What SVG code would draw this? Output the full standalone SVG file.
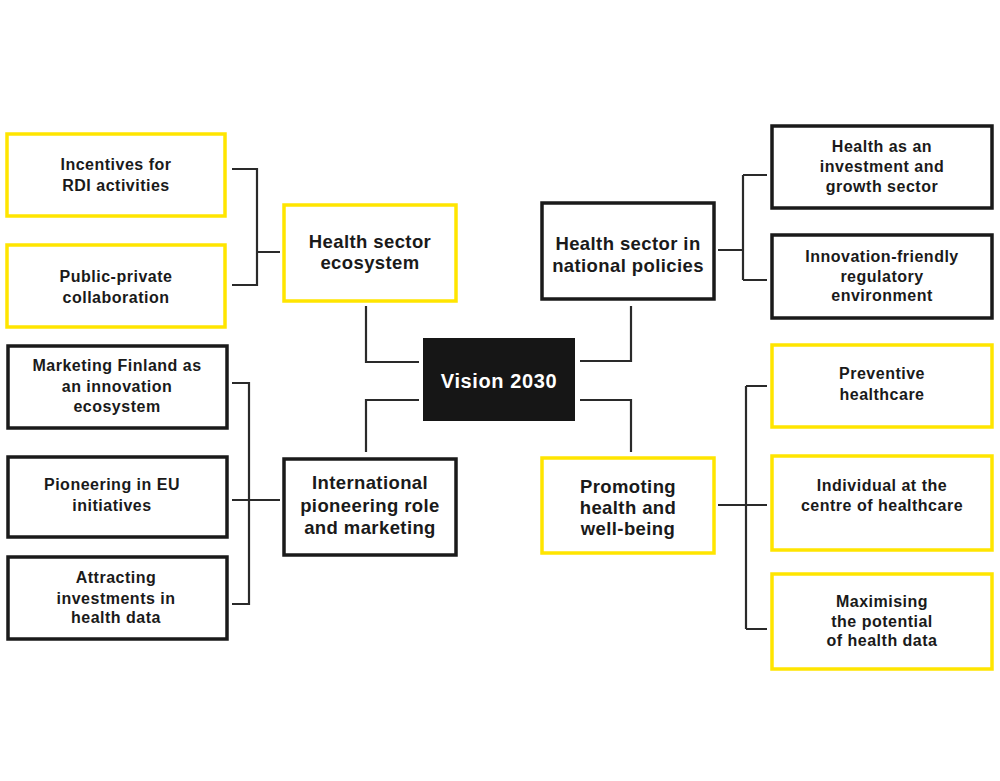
<svg xmlns="http://www.w3.org/2000/svg" width="1000" height="781" viewBox="0 0 1000 781">
<style>
.y{fill:#fff;stroke:#ffe500;stroke-width:3.5}
.k{fill:#fff;stroke:#1a1a1a;stroke-width:3.5}
.c{fill:#161616}
text{font-family:"Liberation Sans",Arial,sans-serif;font-weight:bold;fill:#1a1a1a;text-anchor:middle}
.s{font-size:16px;letter-spacing:0.5px}
.m{font-size:18.5px;letter-spacing:0.4px}
.v{font-size:20px;letter-spacing:0.6px;fill:#fff}
.ln{fill:none;stroke:#2a2a2a;stroke-width:2.2}
</style>
<rect width="1000" height="781" fill="#fff"/>
<g id="connectors">
<path class="ln" d="M232 169H257V285H232M257 252H280"/>
<path class="ln" d="M718 250H743M743 175V280M743 175H767M743 280H767"/>
<path class="ln" d="M232 383H249V604H232M232 500H280"/>
<path class="ln" d="M718 505H767M746 386V629M746 386H767M746 629H767"/>
<path class="ln" d="M366 306V362H419M366 452V400H419"/>
<path class="ln" d="M580 361H631V306M580 400H631V452"/>
</g>
<g id="n-incentives"><rect class="y" x="7" y="134" width="218" height="82"/><text class="s" x="116" y="170">Incentives for</text><text class="s" x="116" y="191">RDI activities</text></g>
<g id="n-public"><rect class="y" x="7" y="245" width="218" height="82"/><text class="s" x="116" y="282">Public-private</text><text class="s" x="116" y="303">collaboration</text></g>
<g id="n-ecosystem"><rect class="y" x="284" y="205" width="172" height="96"/><text class="m" x="370" y="248">Health sector</text><text class="m" x="370" y="269">ecosystem</text></g>
<g id="n-investment"><rect class="k" x="772" y="126" width="220" height="82"/><text class="s" x="882" y="152">Health as an</text><text class="s" x="882" y="172">investment and</text><text class="s" x="882" y="192">growth sector</text></g>
<g id="n-regulatory"><rect class="k" x="772" y="235" width="220" height="83"/><text class="s" x="882" y="262">Innovation-friendly</text><text class="s" x="882" y="282">regulatory</text><text class="s" x="882" y="301">environment</text></g>
<g id="n-national"><rect class="k" x="542" y="203" width="172" height="96"/><text class="m" x="628" y="250">Health sector in</text><text class="m" x="628" y="272">national policies</text></g>
<g id="n-vision"><rect class="c" x="423" y="338" width="152" height="83"/><text class="v" x="499" y="388">Vision 2030</text></g>
<g id="n-marketing"><rect class="k" x="8" y="346" width="219" height="82"/><text class="s" x="117" y="371">Marketing Finland as</text><text class="s" x="117" y="392">an innovation</text><text class="s" x="117" y="412">ecosystem</text></g>
<g id="n-eu"><rect class="k" x="8" y="457" width="219" height="80"/><text class="s" x="112" y="490">Pioneering in EU</text><text class="s" x="112" y="511">initiatives</text></g>
<g id="n-attracting"><rect class="k" x="8" y="557" width="219" height="82"/><text class="s" x="116" y="583">Attracting</text><text class="s" x="116" y="604">investments in</text><text class="s" x="116" y="623">health data</text></g>
<g id="n-international"><rect class="k" x="284" y="459" width="172" height="96"/><text class="m" x="370" y="489">International</text><text class="m" x="370" y="512">pioneering role</text><text class="m" x="370" y="534">and marketing</text></g>
<g id="n-preventive"><rect class="y" x="772" y="345" width="220" height="82"/><text class="s" x="882" y="379">Preventive</text><text class="s" x="882" y="400">healthcare</text></g>
<g id="n-individual"><rect class="y" x="772" y="456" width="220" height="94"/><text class="s" x="882" y="491">Individual at the</text><text class="s" x="882" y="511">centre of healthcare</text></g>
<g id="n-maximising"><rect class="y" x="772" y="574" width="220" height="95"/><text class="s" x="882" y="607">Maximising</text><text class="s" x="882" y="627">the potential</text><text class="s" x="882" y="646">of health data</text></g>
<g id="n-promoting"><rect class="y" x="542" y="458" width="172" height="95"/><text class="m" x="628" y="493">Promoting</text><text class="m" x="628" y="514">health and</text><text class="m" x="628" y="535">well-being</text></g>
</svg>
